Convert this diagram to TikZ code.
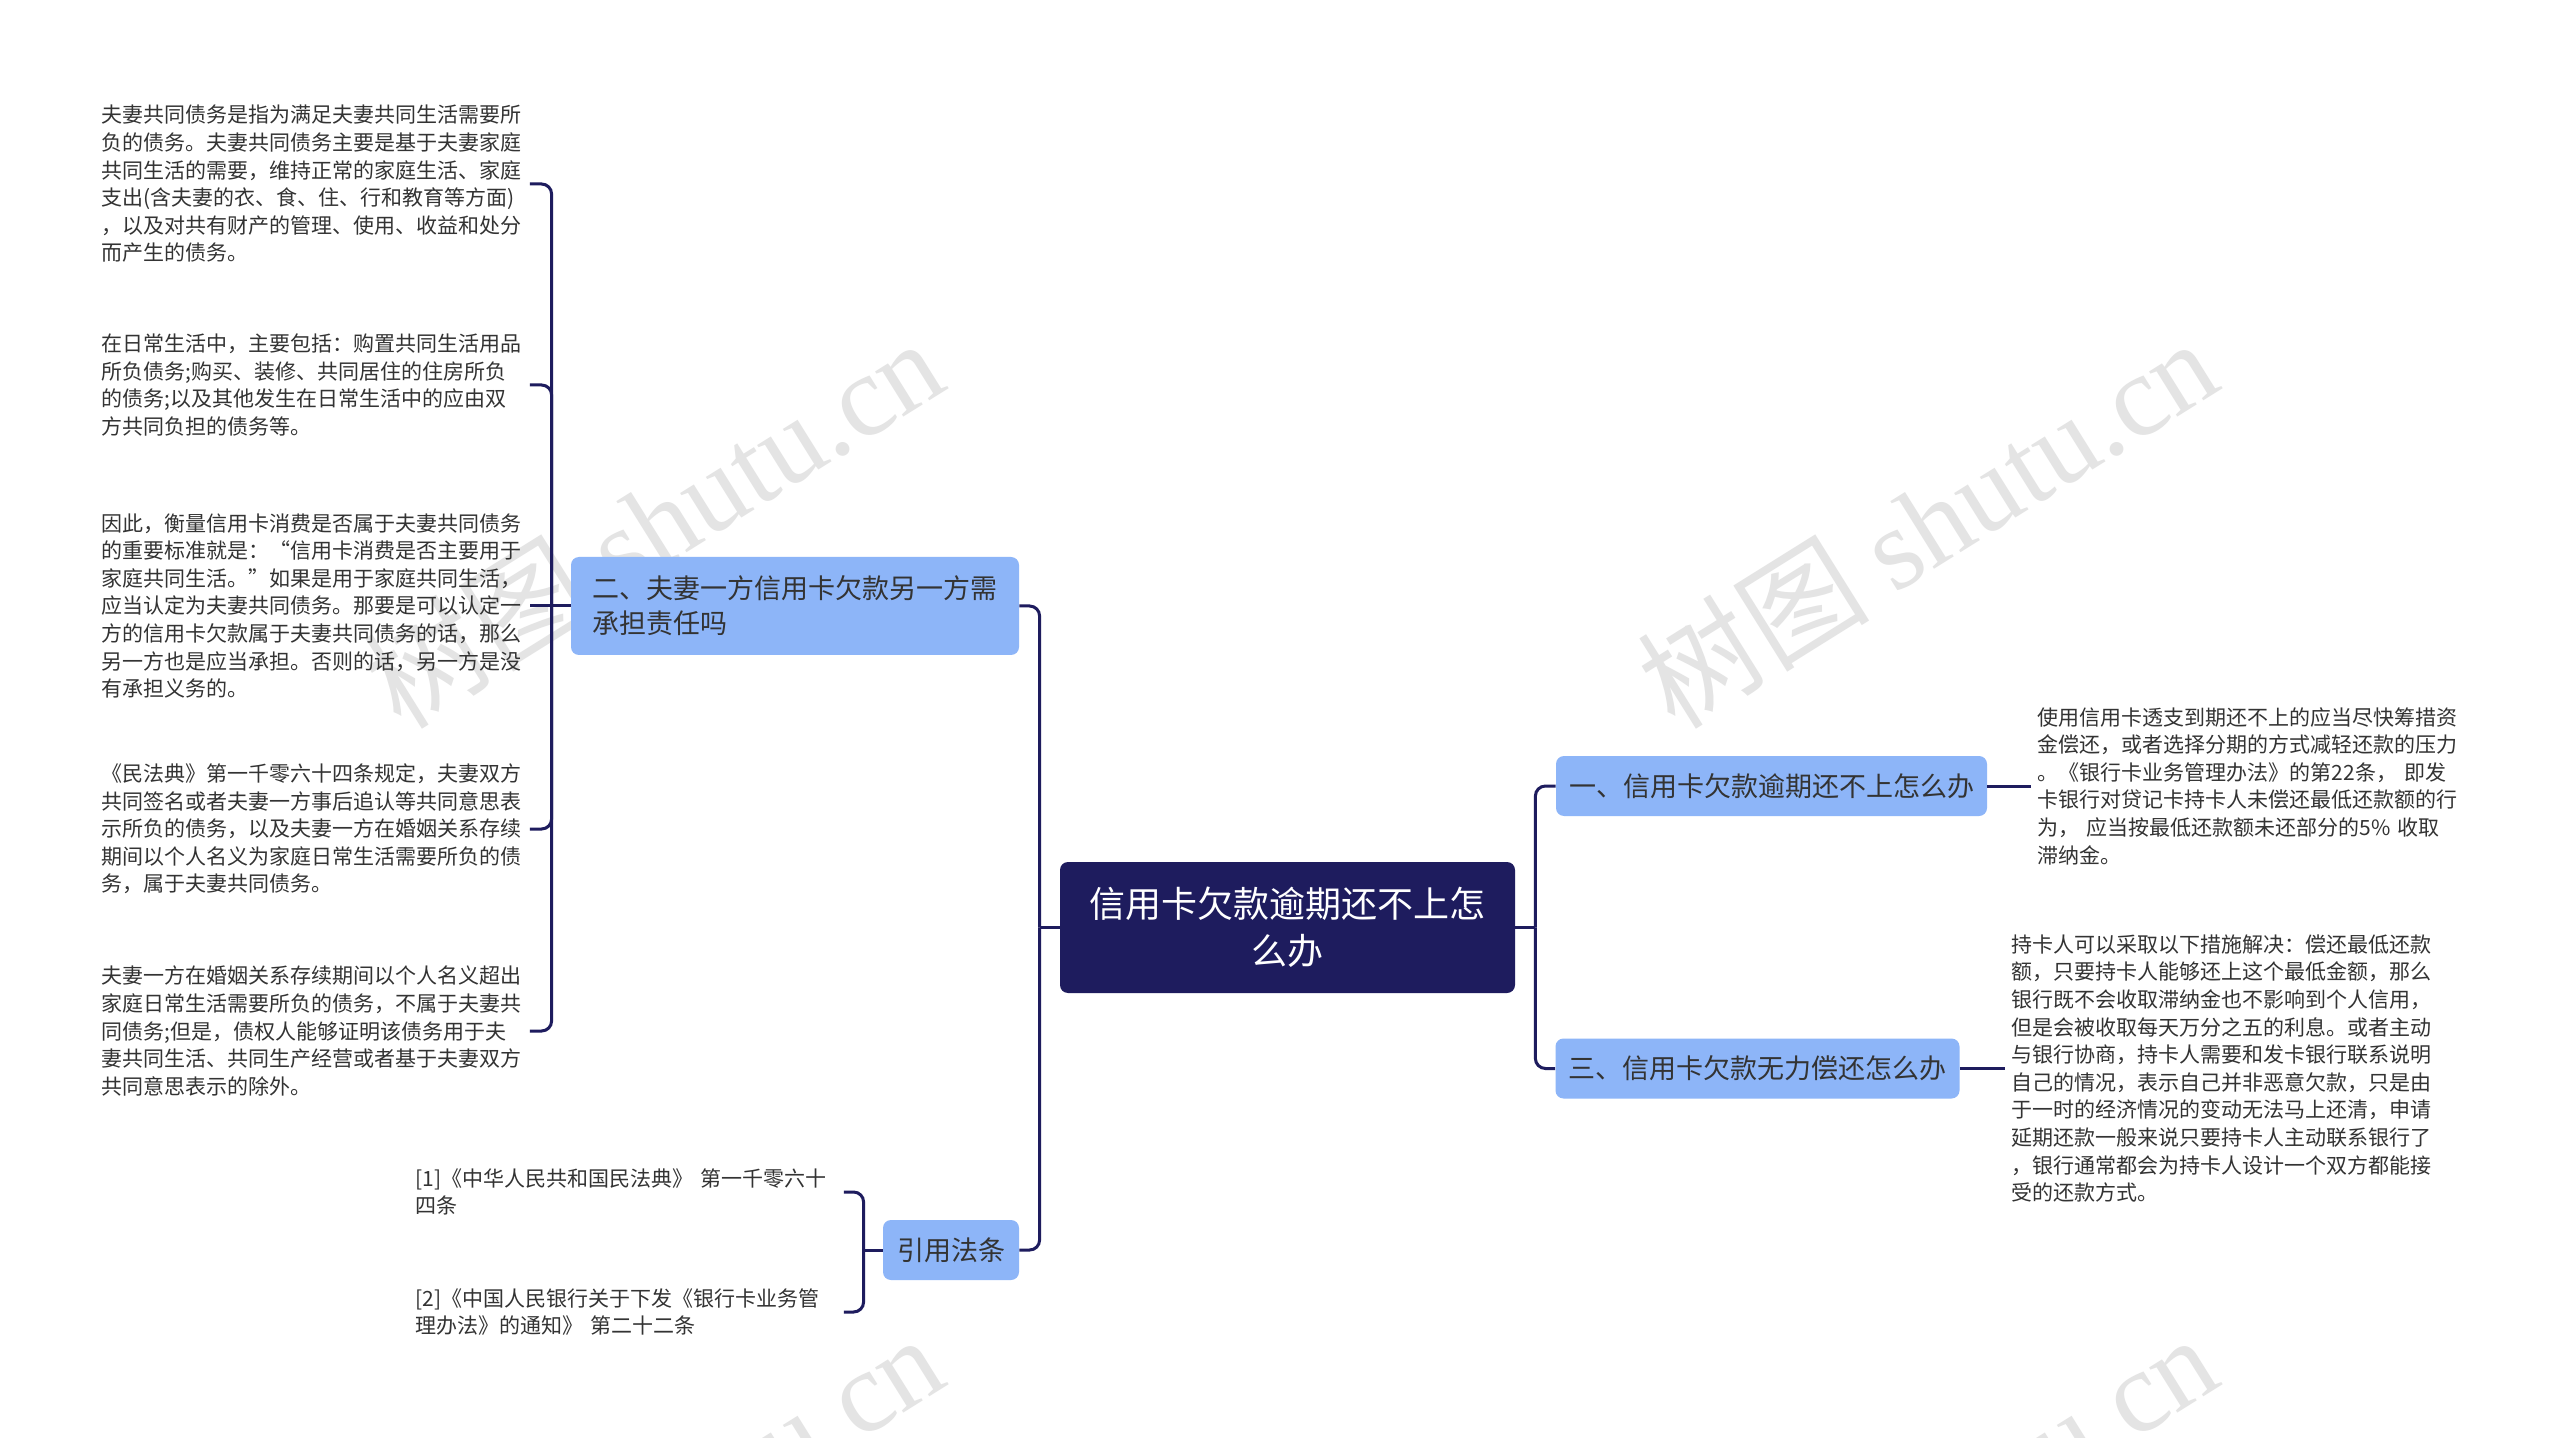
\documentclass[tikz,border=0pt]{standalone}
\usepackage{fontspec}
\setmainfont{Noto Sans CJK SC}
\newfontfamily\wmlatin{Liberation Serif}
\usetikzlibrary{positioning}

\definecolor{navy}{HTML}{1E1C5E}
\definecolor{topicblue}{HTML}{8DB5F8}
\definecolor{ink}{HTML}{333333}
\definecolor{wmgray}{HTML}{E4E4E4}

\begin{document}
\begin{tikzpicture}[
    x=0.5pt, y=-0.5pt,
    root/.style={
        rectangle,
        fill=navy,
        rounded corners=4pt,
        minimum width=227.5pt,
        minimum height=65.5pt,
        text=white,
        align=center,
        font=\fontsize{18}{23.5}\selectfont
    },
    topic/.style={
        rectangle,
        fill=topicblue,
        rounded corners=4pt,
        minimum height=30pt,
        inner xsep=6.5pt,
        text=ink,
        align=left,
        font=\fontsize{13.5}{17.5}\selectfont
    },
    leaf/.style={
        inner xsep=3pt,
        inner ysep=0pt,
        text width=211pt,
        align=left,
        text=ink,
        font=\fontsize{10.5}{13.8}\selectfont
    },
    wm/.style={
        text=wmgray,
        rotate=32,
        font=\fontsize{58}{60}\selectfont
    },
    link/.style={navy, line width=1.5pt, rounded corners=5pt}
]

\useasboundingbox[fill=white] (0,0) rectangle (2560,1438);

% watermarks
\node[wm] (wm1) at (653,522) {树图 {\wmlatin shutu.cn}};
\node[wm] (wm2) at (1927,522) {树图 {\wmlatin shutu.cn}};
\node[wm] (wm3) at (653,1518) {树图 {\wmlatin shutu.cn}};
\node[wm] (wm4) at (1927,1518) {树图 {\wmlatin shutu.cn}};

% centre and main topics
\node[root] (root) at (1287.5,927.5) {信用卡欠款逾期还不上怎\\么办};
\node[topic, minimum width=215.5pt] (b1) at (1771.5,786) {一、信用卡欠款逾期还不上怎么办};
\node[topic, minimum width=201.5pt] (b3) at (1757.5,1068.5) {三、信用卡欠款无力偿还怎么办};
\node[topic, minimum width=224pt, minimum height=49pt] (b2) at (795,606) {二、夫妻一方信用卡欠款另一方需\\承担责任吗};
\node[topic, minimum width=68pt] (yy) at (951,1250) {引用法条};

% right leaves
\node[leaf, right=22pt of b1] (rt) {使用信用卡透支到期还不上的应当尽快筹措资\\
金偿还，或者选择分期的方式减轻还款的压力\\
。《银行卡业务管理办法》的第22条， 即发\\
卡银行对贷记卡持卡人未偿还最低还款额的行\\
为， 应当按最低还款额未还部分的5\% 收取\\
滞纳金。};
\node[leaf, right=22.5pt of b3] (rb) {持卡人可以采取以下措施解决：偿还最低还款\\
额，只要持卡人能够还上这个最低金额，那么\\
银行既不会收取滞纳金也不影响到个人信用，\\
但是会被收取每天万分之五的利息。或者主动\\
与银行协商，持卡人需要和发卡银行联系说明\\
自己的情况，表示自己并非恶意欠款，只是由\\
于一时的经济情况的变动无法马上还清，申请\\
延期还款一般来说只要持卡人主动联系银行了\\
，银行通常都会为持卡人设计一个双方都能接\\
受的还款方式。};

% left leaves
\node[leaf, anchor=west] (l1) at (95,184) {夫妻共同债务是指为满足夫妻共同生活需要所\\
负的债务。夫妻共同债务主要是基于夫妻家庭\\
共同生活的需要，维持正常的家庭生活、家庭\\
支出(含夫妻的衣、食、住、行和教育等方面)\\
，以及对共有财产的管理、使用、收益和处分\\
而产生的债务。};
\node[leaf, anchor=west] (l2) at (95,385) {在日常生活中，主要包括：购置共同生活用品\\
所负债务;购买、装修、共同居住的住房所负\\
的债务;以及其他发生在日常生活中的应由双\\
方共同负担的债务等。};
\node[leaf, anchor=west] (l3) at (95,606) {因此，衡量信用卡消费是否属于夫妻共同债务\\
的重要标准就是：“信用卡消费是否主要用于\\
家庭共同生活。”如果是用于家庭共同生活，\\
应当认定为夫妻共同债务。那要是可以认定一\\
方的信用卡欠款属于夫妻共同债务的话，那么\\
另一方也是应当承担。否则的话，另一方是没\\
有承担义务的。};
\node[leaf, anchor=west] (l4) at (95,829) {《民法典》第一千零六十四条规定，夫妻双方\\
共同签名或者夫妻一方事后追认等共同意思表\\
示所负的债务，以及夫妻一方在婚姻关系存续\\
期间以个人名义为家庭日常生活需要所负的债\\
务，属于夫妻共同债务。};
\node[leaf, anchor=west] (l5) at (95,1031) {夫妻一方在婚姻关系存续期间以个人名义超出\\
家庭日常生活需要所负的债务，不属于夫妻共\\
同债务;但是，债权人能够证明该债务用于夫\\
妻共同生活、共同生产经营或者基于夫妻双方\\
共同意思表示的除外。};

% references
\node[leaf, anchor=west] (r1) at (409,1192) {[1]《中华人民共和国民法典》 第一千零六十\\四条};
\node[leaf, anchor=west] (r2) at (409,1312) {[2]《中国人民银行关于下发《银行卡业务管\\理办法》的通知》 第二十二条};

% connectors
\draw[link] (root.west) -- ++(-20,0) coordinate (lj);
\draw[link] (lj) |- (b2.east);
\draw[link] (lj) |- (yy.east);
\draw[link] (root.east) -- ++(20,0) coordinate (rj);
\draw[link] (rj) |- (b1.west);
\draw[link] (rj) |- (b3.west);

\draw[link] (b1.east) -- (rt.west);
\draw[link] (b3.east) -- (rb.west);

\draw[link] (b2.west) -- ++(-19,0) coordinate (bj);
\draw[link] (bj) |- (l1.east);
\draw[link] (bj) |- (l2.east);
\draw[link] (bj) -- (l3.east);
\draw[link] (bj) |- (l4.east);
\draw[link] (bj) |- (l5.east);

\draw[link] (yy.west) -- ++(-19,0) coordinate (yj);
\draw[link] (yj) |- (r1.east);
\draw[link] (yj) |- (r2.east);

\end{tikzpicture}
\end{document}
